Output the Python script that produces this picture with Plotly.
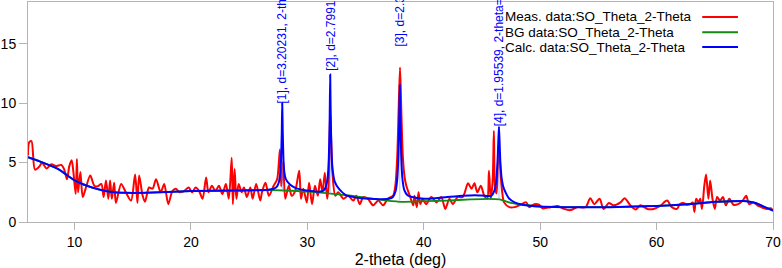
import plotly.graph_objects as go

# ---------------- data ----------------
meas_x = [6.0, 6.1, 6.3, 6.6, 7.0, 7.2, 7.6, 8.0, 8.4, 8.85, 9.1, 9.35, 9.55, 9.75, 9.9,
          10.1, 10.2, 10.3, 10.5, 10.7, 10.95, 11.35, 11.7, 12.0, 12.3, 12.5, 12.7, 12.9,
          13.05, 13.2, 13.4, 13.55, 14.0, 14.4, 14.85, 15.2, 15.4, 15.55, 15.85, 16.05,
          16.4, 16.7, 17.0, 17.4, 17.7, 18.05, 18.4, 18.7, 19.0, 19.4, 19.8, 20.1, 20.4,
          20.7, 21.0, 21.3, 21.5, 21.8, 22.1, 22.4, 22.7, 23.0, 23.25, 23.5, 23.6, 23.75,
          23.9, 24.1, 24.35, 24.55, 24.8, 25.1, 25.3, 25.6, 25.95, 26.1, 26.4, 26.7, 27.1,
          27.4, 27.55, 27.64, 27.75, 27.85, 27.93, 28.1, 28.4, 28.65, 28.95, 29.3, 29.45,
          29.65, 29.95, 30.15, 30.4, 30.65, 30.9, 31.1, 31.3, 31.5, 31.7, 31.82, 31.9,
          31.96, 32.04, 32.15, 32.4, 32.65, 33.1, 33.5, 33.95, 34.2, 34.5, 34.8, 35.2,
          35.65, 36.1, 36.5, 36.9, 37.35, 37.55, 37.72, 37.84, 37.96, 38.08, 38.2, 38.35,
          38.5, 38.8, 39.1, 39.2, 39.4, 39.55, 39.7, 39.9, 40.2, 40.65, 41.1, 41.5, 41.85,
          42.2, 42.5, 42.9, 43.35, 43.8, 44.1, 44.35, 44.6, 44.9, 45.2, 45.45, 45.6, 45.75,
          45.92, 46.02, 46.12, 46.25, 46.38, 46.48, 46.6, 46.75, 46.9, 47.35, 47.8, 48.2,
          48.8, 49.05, 49.5, 49.9, 50.2, 50.9, 51.5, 52.05, 52.6, 53.2, 53.9, 54.3, 54.65,
          55.1, 55.45, 55.9, 56.3, 56.9, 57.25, 57.75, 58.2, 58.6, 59.2, 59.75, 60.3, 60.9,
          61.3, 61.75, 62.0, 62.3, 62.6, 62.9, 63.1, 63.25, 63.4, 63.6, 63.75, 63.9, 64.1,
          64.25, 64.45, 64.6, 64.8, 65.0, 65.2, 65.45, 65.7, 65.95, 66.25, 66.6, 67.0,
          67.4, 67.7, 67.95, 68.3, 68.65, 69.0, 69.45, 69.8, 70.0]
meas_y = [5.6, 6.7, 6.8, 4.4, 4.7, 5.0, 4.5, 4.85, 4.7, 4.8, 4.45, 3.6, 4.7, 5.2, 4.2,
          2.35, 5.3, 2.5, 4.2, 2.1, 2.8, 3.9, 3.05, 3.0, 3.2, 2.1, 3.5, 1.95,
          3.5, 1.95, 3.3, 1.6, 3.2, 2.5, 1.8, 4.0, 1.6, 3.9, 2.2, 1.7,
          2.9, 2.8, 3.6, 2.5, 3.2, 1.5, 2.6, 2.8, 2.5, 2.6, 2.9, 2.5, 2.9,
          2.6, 1.95, 3.75, 2.5, 3.05, 2.6, 3.05, 2.35, 3.2, 1.95, 5.4, 1.5, 4.45,
          1.95, 3.2, 2.5, 2.9, 2.1, 2.9, 1.95, 3.2, 1.8, 2.5, 3.3, 2.2, 3.05,
          3.6, 5.0, 6.1, 3.0, 4.2, 5.1, 1.95, 3.05, 2.2, 2.6, 4.3, 1.95,
          2.8, 1.65, 3.3, 1.5, 3.05, 2.2, 3.6, 2.5, 4.15, 1.95, 3.0, 6.5,
          9.4, 7.0, 4.2, 2.2, 2.5, 1.95, 2.2, 1.8, 2.2, 1.5, 2.1, 1.95,
          1.4, 1.8, 1.4, 1.95, 2.2, 3.0, 5.5, 9.5, 13.0, 9.0, 5.5, 3.8,
          3.05, 2.2, 1.4, 2.2, 1.25, 2.5, 1.5, 1.95, 1.5, 2.1, 1.65, 2.1, 1.1,
          1.95, 1.5, 2.1, 2.1, 3.25, 2.8, 3.25, 2.5, 3.05, 2.2, 1.95, 4.3, 1.95,
          3.5, 7.65, 3.0, 2.4, 5.0, 6.0, 4.0, 2.4, 1.65, 1.25, 1.25, 1.4,
          1.65, 1.25, 1.5, 1.45, 1.15, 1.25, 1.35, 1.1, 1.0, 1.25, 1.25, 2.0, 1.5,
          1.95, 1.1, 1.6, 1.4, 1.65, 2.0, 1.4, 1.05, 1.4, 1.1, 1.1, 1.35, 1.8,
          1.25, 1.1, 1.5, 1.6, 1.45, 1.5, 1.65, 0.85, 1.95, 1.65, 1.95, 1.1, 3.05,
          4.0, 1.95, 3.5, 1.95, 1.1, 2.1, 1.8, 2.1, 1.4, 1.95, 1.45, 1.5,
          1.8, 2.2, 1.5, 1.65, 1.4, 1.25, 1.1, 1.15, 0.95]

bg_x = [6.0, 7.0, 8.6, 10.0, 11.5, 13.0, 14.5, 16.0, 20.0, 24.0, 26.5, 28.0, 30.0, 32.0,
        34.2, 36.0, 37.9, 40.1, 42.0, 44.0, 45.5, 46.5, 47.6, 48.5, 50.0, 52.0, 56.0,
        60.0, 62.0, 64.0, 65.0, 67.7, 68.5, 69.2, 70.0]
bg_y = [5.45, 5.1, 4.45, 3.5, 2.9, 2.55, 2.45, 2.45, 2.6, 2.65, 2.7, 2.65, 2.55, 2.38,
        2.15, 1.9, 1.7, 1.75, 1.8, 1.9, 1.95, 1.9, 1.58, 1.45, 1.3, 1.25, 1.25,
        1.35, 1.45, 1.6, 1.7, 1.75, 1.6, 1.3, 0.95]

calc_x = [6.0, 7.0, 8.6, 10.0, 11.5, 13.0, 14.5, 16.0, 20.0, 24.0, 26.5, 27.1, 27.4,
          27.55, 27.66, 27.74, 27.8, 27.84, 27.88, 27.94, 28.02, 28.15, 28.5, 29.0, 29.6,
          30.3, 31.0, 31.4, 31.6, 31.74, 31.84, 31.91, 31.96, 32.01, 32.08, 32.18, 32.35,
          32.7, 33.3, 34.2, 35.3, 36.3, 37.0, 37.35, 37.58, 37.72, 37.82, 37.89, 37.94,
          37.99, 38.06, 38.16, 38.32, 38.6, 39.0, 40.1, 41.0, 42.0, 43.3, 44.4, 45.3,
          45.8, 46.05, 46.22, 46.34, 46.41, 46.46, 46.51, 46.58, 46.7, 46.88, 47.3,
          47.8, 48.5, 50.0, 52.0, 56.0, 60.0, 62.0, 64.0, 65.0, 67.7, 68.5, 69.2, 70.0]
calc_y = [5.45, 5.1, 4.45, 3.5, 2.9, 2.55, 2.45, 2.45, 2.6, 2.65, 2.7, 2.8, 3.0,
          3.35, 4.0, 5.3, 7.5, 10.0, 7.8, 5.4, 4.2, 3.6, 3.15, 2.85, 2.7,
          2.6, 2.55, 2.65, 3.0, 3.7, 5.3, 8.2, 12.4, 8.6, 5.8, 4.3, 3.4,
          2.8, 2.25, 2.05, 1.95, 1.92, 1.95, 2.1, 2.6, 3.6, 5.6, 8.6, 11.5,
          8.6, 5.6, 3.7, 2.7, 2.25, 2.1, 1.95, 2.0, 2.1, 2.2, 2.25, 2.2,
          2.2, 2.6, 3.4, 5.2, 7.0, 8.0, 6.8, 5.0, 3.6, 2.8, 2.0,
          1.65, 1.45, 1.3, 1.25, 1.25, 1.35, 1.45, 1.6, 1.7, 1.75, 1.6, 1.3, 0.95]

peak_pos = [27.84, 31.96, 37.94, 46.46]
peak_calc = [10.0, 12.4, 11.5, 8.0]
peak_bg = [2.65, 2.38, 1.7, 1.9]
label_y = [9.9, 12.6, 14.7, 8.0]
peak_labels = ["[1], d=3.20231, 2-theta=27.8372",
               "[2], d=2.7991(1), 2-theta=31.948(1)",
               "[3], d=2.37100, 2-theta=37.917",
               "[4], d=1.95539, 2-theta=46.402"]

legend_names = ["Meas. data:SO_Theta_2-Theta",
                "BG data:SO_Theta_2-Theta",
                "Calc. data:SO_Theta_2-Theta"]
colors = ["#ff0000", "#138a13", "#0000ff"]

FONT = "Liberation Sans, Arial, sans-serif"

fig = go.Figure()
fig.add_trace(go.Scatter(x=meas_x, y=meas_y, mode="lines", name=legend_names[0],
                         line=dict(color=colors[0], width=2, shape="spline", smoothing=0.8)))
fig.add_trace(go.Scatter(x=bg_x, y=bg_y, mode="lines", name=legend_names[1],
                         line=dict(color=colors[1], width=1.8, shape="spline", smoothing=0.6)))
# faint peak marker lines
vx, vy = [], []
for p, top, b in zip(peak_pos, peak_calc, peak_bg):
    vx += [p, p, None]
    vy += [b, top, None]
fig.add_trace(go.Scatter(x=vx, y=vy, mode="lines", line=dict(color="rgba(130,150,255,0.6)", width=1),
                         hoverinfo="skip"))
fig.add_trace(go.Scatter(x=calc_x, y=calc_y, mode="lines", name=legend_names[2],
                         line=dict(color=colors[2], width=2, shape="spline", smoothing=0.5)))

for p, ly, t in zip(peak_pos, label_y, peak_labels):
    fig.add_annotation(x=p, y=ly, xref="x", yref="y", text=t, showarrow=False,
                       textangle=-90, xanchor="center", yanchor="bottom", borderpad=0,
                       font=dict(family=FONT, size=12, color="#0000ff"))

# custom legend (text left, line sample right)
leg_y = [0.932, 0.862, 0.795]
for name, c, yy in zip(legend_names, colors, leg_y):
    fig.add_annotation(x=0.638, y=yy, xref="paper", yref="paper", text=name, showarrow=False,
                       xanchor="left", yanchor="middle",
                       font=dict(family=FONT, size=13.5, color="black"))
    fig.add_shape(type="line", xref="paper", yref="paper", x0=0.905, x1=0.953, y0=yy, y1=yy,
                  line=dict(color=c, width=2))

axis_common = dict(showline=True, linecolor="#b4b4b4", linewidth=1, mirror=True,
                   ticks="outside", tickcolor="#b4b4b4", showgrid=False, zeroline=False,
                   tickfont=dict(family=FONT, size=14, color="black"))
fig.update_xaxes(range=[6, 70], tick0=0, dtick=10, ticklen=7,
                 title=dict(text="2-theta (deg)", font=dict(family=FONT, size=16, color="black"),
                            standoff=6), **axis_common)
fig.update_yaxes(range=[0, 18.5], tick0=0, dtick=5, ticklen=8, **axis_common)

fig.update_layout(width=782, height=268, margin=dict(l=25, r=9, t=1, b=45),
                  paper_bgcolor="white", plot_bgcolor="white", showlegend=False)

fig.write_html("out.html", config={"displayModeBar": False},
               post_script="document.body.style.margin='0';document.body.style.overflow='hidden';")
